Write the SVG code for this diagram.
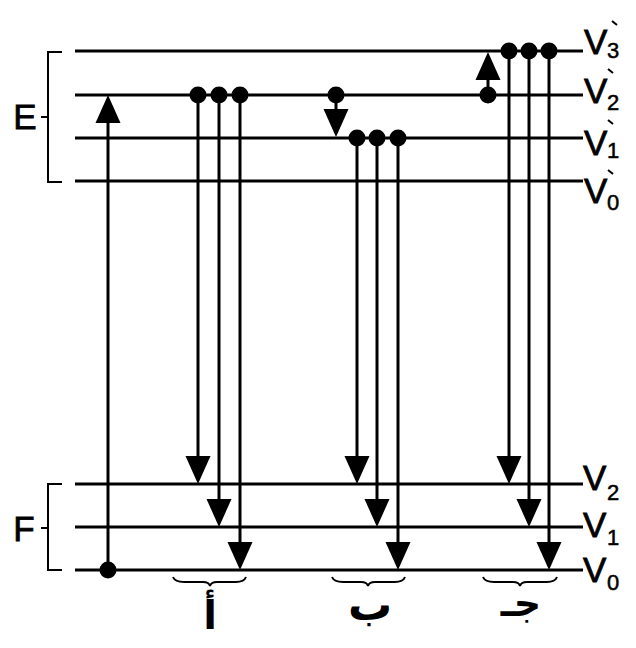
<svg xmlns="http://www.w3.org/2000/svg" xmlns:xlink="http://www.w3.org/1999/xlink" width="636" height="648" viewBox="0 0 636 648">
<style>
.lvl{stroke:#000;stroke-width:3;fill:none}
.br{stroke:#000;stroke-width:2;fill:none}
.sh{stroke:#000;stroke-width:3;fill:none}
.dot{fill:#000}
.lab{font-family:"Liberation Sans",Arial,sans-serif;font-size:35px;fill:#000;stroke:#000;stroke-width:0.8}
.sub{font-family:"Liberation Sans",Arial,sans-serif;font-size:22px;fill:#000;stroke:#000;stroke-width:0.5}
.acc{stroke:#000;stroke-width:2;fill:none}
.ar{font-family:"DejaVu Sans",sans-serif;font-weight:bold;fill:#000}
</style>
<defs>
<path id="ahd" d="M0,0 L-12.5,-28 L12.5,-28 Z" fill="#000"/>
<path id="ahu" d="M0,0 L-12.5,28 L12.5,28 Z" fill="#000"/>
</defs>
<rect width="636" height="648" fill="#fff"/>

<g id="levels">
<line class="lvl" x1="75" y1="51" x2="583" y2="51"/>
<line class="lvl" x1="75" y1="95" x2="583" y2="95"/>
<line class="lvl" x1="75" y1="138" x2="583" y2="138"/>
<line class="lvl" x1="75" y1="181" x2="583" y2="181"/>
<line class="lvl" x1="75" y1="484" x2="583" y2="484"/>
<line class="lvl" x1="75" y1="527" x2="583" y2="527"/>
<line class="lvl" x1="75" y1="570" x2="583" y2="570"/>
</g>

<g id="bracket-E">
<path class="br" d="M62,52 H48 V182 H62 M41,117 H48"/>
<text class="lab" x="25" y="129" text-anchor="middle">E</text>
</g>
<g id="bracket-F">
<path class="br" d="M62,484 H48 V570 H62 M41,528 H48"/>
<text class="lab" x="24" y="541" text-anchor="middle">F</text>
</g>

<g id="level-labels">
<text class="lab" x="584" y="54">V</text><text class="sub" x="607" y="58">3</text><path class="acc" d="M612,21 L617,25"/>
<text class="lab" x="584" y="103">V</text><text class="sub" x="607" y="110">2</text><path class="acc" d="M608,69 L613,73"/>
<text class="lab" x="584" y="155">V</text><text class="sub" x="607" y="158">1</text><path class="acc" d="M608,120 L613,124"/>
<text class="lab" x="584" y="203">V</text><text class="sub" x="607" y="210">0</text><path class="acc" d="M608,170 L613,174"/>
<text class="lab" x="583" y="490">V</text><text class="sub" x="607" y="500">2</text>
<text class="lab" x="583" y="537">V</text><text class="sub" x="607" y="545">1</text>
<text class="lab" x="583" y="582">V</text><text class="sub" x="607" y="590">0</text>
</g>

<g id="connectors">
<line class="sh" x1="108" y1="570" x2="108" y2="120"/>
<use xlink:href="#ahu" x="108" y="95"/>
<line class="sh" x1="198" y1="95" x2="198" y2="458"/>
<use xlink:href="#ahd" x="198" y="484"/>
<line class="sh" x1="219" y1="95" x2="219" y2="501"/>
<use xlink:href="#ahd" x="219" y="527"/>
<line class="sh" x1="240" y1="95" x2="240" y2="544"/>
<use xlink:href="#ahd" x="240" y="570"/>
<line class="sh" x1="336" y1="95" x2="336" y2="112"/>
<use xlink:href="#ahd" x="336" y="137"/>
<line class="sh" x1="357" y1="138" x2="357" y2="458"/>
<use xlink:href="#ahd" x="357" y="484"/>
<line class="sh" x1="377" y1="138" x2="377" y2="501"/>
<use xlink:href="#ahd" x="377" y="527"/>
<line class="sh" x1="398" y1="138" x2="398" y2="544"/>
<use xlink:href="#ahd" x="398" y="570"/>
<line class="sh" x1="488" y1="95" x2="488" y2="78"/>
<use xlink:href="#ahu" x="488" y="52"/>
<line class="sh" x1="509" y1="51" x2="509" y2="458"/>
<use xlink:href="#ahd" x="509" y="484"/>
<line class="sh" x1="529" y1="51" x2="529" y2="501"/>
<use xlink:href="#ahd" x="529" y="527"/>
<line class="sh" x1="549" y1="51" x2="549" y2="544"/>
<use xlink:href="#ahd" x="549" y="570"/>
</g>

<g id="dots">
<circle class="dot" cx="108" cy="570" r="8.5"/>
<circle class="dot" cx="198" cy="95" r="8.5"/>
<circle class="dot" cx="219" cy="95" r="8.5"/>
<circle class="dot" cx="240" cy="95" r="8.5"/>
<circle class="dot" cx="336" cy="95" r="8.5"/>
<circle class="dot" cx="357" cy="138" r="8.5"/>
<circle class="dot" cx="377" cy="138" r="8.5"/>
<circle class="dot" cx="398" cy="138" r="8.5"/>
<circle class="dot" cx="488" cy="95" r="8.5"/>
<circle class="dot" cx="509" cy="51" r="8.5"/>
<circle class="dot" cx="529" cy="51" r="8.5"/>
<circle class="dot" cx="549" cy="51" r="8.5"/>
</g>

<g id="group-a">
<path class="br" d="M173,577 Q175,582 184,582 L203,582 Q209,582 210,586 Q211,582 217,582 L236,582 Q244,582 246,577"/>
<text class="ar" x="210" y="629" text-anchor="middle" font-size="40">أ</text>
</g>
<g id="group-b">
<path class="br" d="M332,577 Q334,582 343,582 L361,582 Q367,582 368,586 Q369,582 375,582 L395,582 Q403,582 405,577"/>
<text class="ar" x="370" y="620" text-anchor="middle" font-size="44">ب</text>
</g>
<g id="group-c">
<path class="br" d="M483,577 Q485,582 494,582 L513,582 Q519,582 520,586 Q521,582 527,582 L547,582 Q555,582 557,577"/>
<text class="ar" x="521" y="616" text-anchor="middle" font-size="38">جـ</text>
</g>
</svg>
